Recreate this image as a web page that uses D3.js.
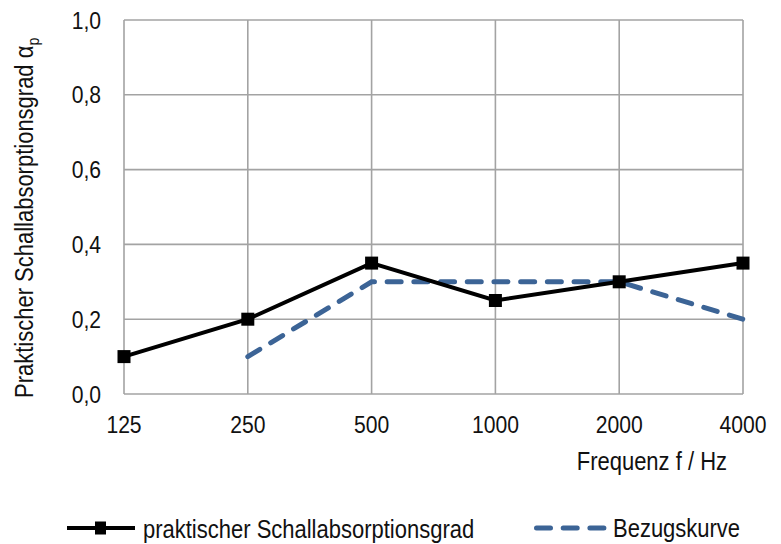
<!DOCTYPE html>
<html><head><meta charset="utf-8">
<script src="https://cdn.jsdelivr.net/npm/d3@7"></script>
<style>
body{margin:0;background:#fff;}
text{font-family:"Liberation Sans",Arial,sans-serif;fill:#111;}
</style></head>
<body><svg id="c" width="781" height="544"></svg>
<script>
const categories = ["125","250","500","1000","2000","4000"];
const praktisch = [0.10,0.20,0.35,0.25,0.30,0.35];
const bezug = [null,0.10,0.30,0.30,0.30,0.20];
const yTicks = [0,0.2,0.4,0.6,0.8,1.0];

const svg = d3.select("#c");
const L=124,R=743,T=20,B=394;
const x = d3.scalePoint().domain(categories).range([L,R]).padding(0);
const y = d3.scaleLinear().domain([0,1]).range([B,T]);
const fmt = v => d3.format(".1f")(v).replace(".",",");
const BLUE="#3c6496", GRID="#a3a3a3", SX=0.88;

// grid
svg.append("g").selectAll("line").data(yTicks).join("line")
  .attr("x1",L).attr("x2",R).attr("y1",d=>y(d)).attr("y2",d=>y(d))
  .attr("stroke",GRID).attr("stroke-width",1.6);
svg.append("g").selectAll("line").data(categories).join("line")
  .attr("x1",d=>x(d)).attr("x2",d=>x(d)).attr("y1",T).attr("y2",B)
  .attr("stroke",GRID).attr("stroke-width",1.6);

// tick labels (condensed)
svg.append("g").selectAll("text").data(yTicks).join("text")
  .attr("transform",d=>`translate(${L-23},${y(d)+8.5}) scale(${SX},1)`)
  .attr("text-anchor","end").attr("font-size",24).text(fmt);
svg.append("g").selectAll("text").data(categories).join("text")
  .attr("transform",d=>`translate(${x(d)},${B+39}) scale(${SX},1)`)
  .attr("text-anchor","middle").attr("font-size",24).text(d=>d);

// titles
svg.append("text").attr("transform",`translate(727,470) scale(${SX},1)`).attr("text-anchor","end").attr("font-size",25).text("Frequenz f / Hz");
const yt = svg.append("text").attr("transform",`translate(33,398) rotate(-90) scale(${SX},1)`).attr("text-anchor","start").attr("font-size",25);
yt.append("tspan").text("Praktischer Schallabsorptionsgrad α");
yt.append("tspan").attr("font-size",16).attr("dy",6).text("p");

// bezug line
const idx = categories.map((c,i)=>i);
const lineB = d3.line().defined(i=>bezug[i]!=null).x(i=>x(categories[i])).y(i=>y(bezug[i]));
svg.append("path").attr("d",lineB(idx)).attr("fill","none").attr("stroke",BLUE)
  .attr("stroke-width",5).attr("stroke-dasharray","14,12.7").attr("stroke-linecap","round");

const lineP = d3.line().x(i=>x(categories[i])).y(i=>y(praktisch[i]));
svg.append("path").attr("d",lineP(idx)).attr("fill","none").attr("stroke","#000").attr("stroke-width",4);
svg.append("g").selectAll("rect").data(idx).join("rect")
  .attr("x",i=>x(categories[i])-6.5).attr("y",i=>y(praktisch[i])-6.5).attr("width",13).attr("height",13).attr("fill","#000");

// legend
const ly=528;
svg.append("line").attr("x1",67).attr("x2",135).attr("y1",ly).attr("y2",ly).attr("stroke","#000").attr("stroke-width",4);
svg.append("rect").attr("x",95).attr("y",ly-6.5).attr("width",11).attr("height",13).attr("fill","#000");
svg.append("text").attr("transform",`translate(143,538) scale(${SX},1)`).attr("font-size",25).text("praktischer Schallabsorptionsgrad");
svg.append("line").attr("x1",536.5).attr("x2",604.5).attr("y1",ly).attr("y2",ly).attr("stroke",BLUE)
  .attr("stroke-width",5).attr("stroke-dasharray","14,12.7").attr("stroke-linecap","round");
svg.append("text").attr("transform",`translate(613,537) scale(${SX},1)`).attr("font-size",25).text("Bezugskurve");
</script></body></html>
